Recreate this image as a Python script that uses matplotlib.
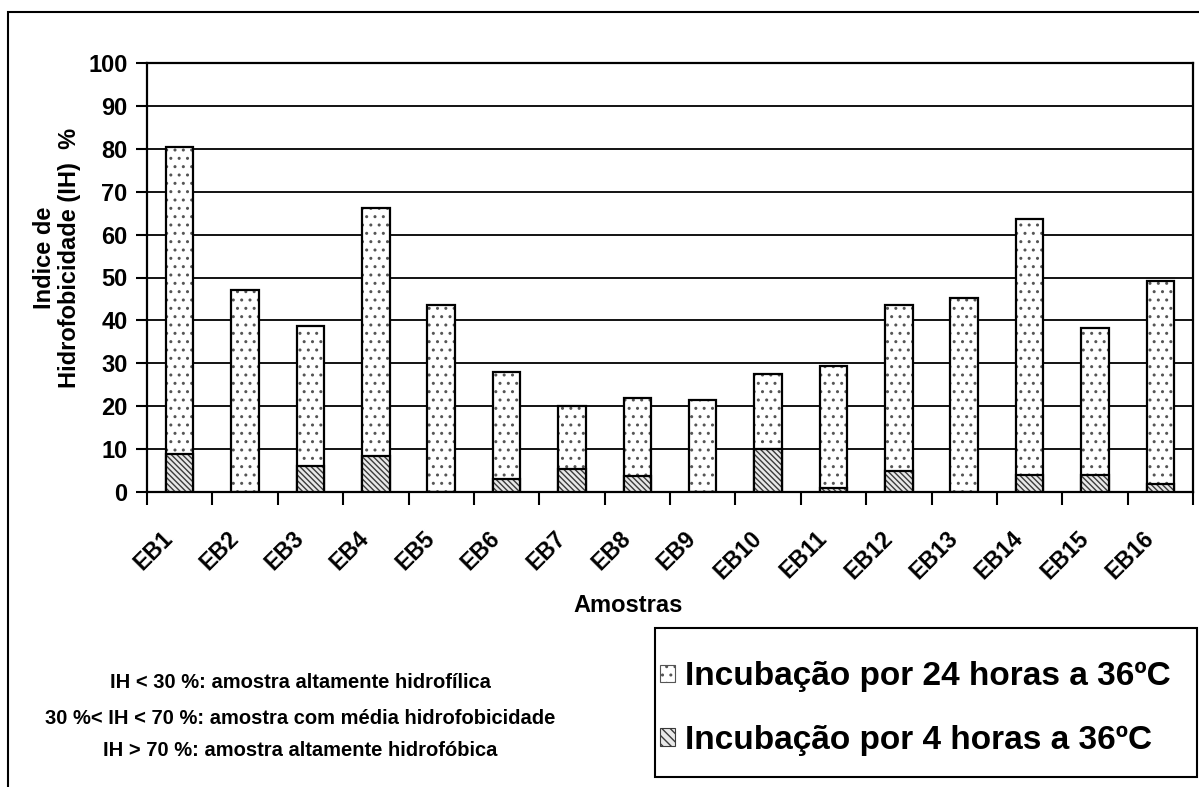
import matplotlib
matplotlib.use("Agg")
import matplotlib.pyplot as plt
import matplotlib.transforms as mtransforms
from matplotlib.patches import Rectangle, Patch
import numpy as np

plt.rcParams['font.family'] = ['Liberation Sans', 'DejaVu Sans']
plt.rcParams['font.weight'] = 'bold'
plt.rcParams['hatch.linewidth'] = 1.0

amostras = ['EB1', 'EB2', 'EB3', 'EB4', 'EB5', 'EB6', 'EB7', 'EB8',
            'EB9', 'EB10', 'EB11', 'EB12', 'EB13', 'EB14', 'EB15', 'EB16']
ih_24h = [80.5, 47.1, 38.7, 66.2, 43.7, 28.0, 20.1, 22.0,
          21.5, 27.5, 29.3, 43.7, 45.2, 63.7, 38.2, 49.3]
ih_4h = [8.9, 0, 6.1, 8.5, 0, 3.0, 5.3, 3.8,
         0, 10.0, 0.9, 4.8, 0, 3.9, 3.9, 1.9]
y_ticks = list(range(0, 101, 10))

W, H = 1199, 787
fig = plt.figure(figsize=(W / 100, H / 100), dpi=100)
ax = fig.add_axes([147 / W, 1 - 492 / H, (1193 - 147) / W, (492 - 63) / H])

x = np.arange(len(amostras))
bw = 0.42
dot_col = '#555555'
stripe_col = '#3a3a3a'

# preenchimento com textura (cor da textura = edgecolor), depois contorno preto
ax.bar(x, ih_24h, bw, color='white', edgecolor=dot_col, hatch='..', lw=0, zorder=3)
ax.bar(x, ih_24h, bw, fill=False, edgecolor='black', lw=1.6, zorder=4)
ax.bar(x, ih_4h, bw, color='#e8e8e8', edgecolor=stripe_col, hatch='\\\\\\\\\\\\', lw=0, zorder=5)
ax.bar(x, ih_4h, bw, fill=False, edgecolor='black', lw=1.6, zorder=6)

ax.set_xlim(-0.5, len(amostras) - 0.5)
ax.set_ylim(0, 100)
ax.set_yticks(y_ticks)
ax.yaxis.grid(True, color='black', lw=1.3, zorder=0)
ax.tick_params(axis='y', direction='out', length=8, width=1.5, labelsize=17, pad=6)

ax.set_xticks(x)
ax.set_xticklabels(amostras, rotation=45, ha='right', va='center',
                   rotation_mode='anchor', fontsize=16.5)
ax.set_xticks(np.arange(len(amostras) + 1) - 0.5, minor=True)
ax.tick_params(axis='x', which='major', length=0, pad=31)
ax.tick_params(axis='x', which='minor', direction='out', length=9, width=1.5)
off = mtransforms.ScaledTranslation(-0.10, 0, fig.dpi_scale_trans)
for lab in ax.get_xticklabels():
    lab.set_transform(lab.get_transform() + off)

for s in ax.spines.values():
    s.set_linewidth(1.6)

fig.text(628 / W, 1 - 605 / H, 'Amostras', ha='center', va='center', fontsize=17)
fig.text(57 / W, 1 - 258 / H, 'Indice de\nHidrofobicidade (IH)  %', ha='center', va='center',
         rotation=90, fontsize=17, multialignment='center', linespacing=1.1)

fig.text(300 / W, 1 - 683 / H, 'IH < 30 %: amostra altamente hidrofílica',
         ha='center', va='center', fontsize=14.5)
fig.text(300 / W, 1 - 718 / H, '30 %< IH < 70 %: amostra com média hidrofobicidade',
         ha='center', va='center', fontsize=14.5)
fig.text(300 / W, 1 - 750 / H, 'IH > 70 %: amostra altamente hidrofóbica',
         ha='center', va='center', fontsize=14.5)

# moldura externa
fig.patches.append(Rectangle((8 / W, -0.1), 1.2, 1.1 - 12 / H, transform=fig.transFigure,
                             fill=False, edgecolor='black', lw=1.5))
# caixa da legenda
fig.patches.append(Rectangle((655 / W, 1 - 777 / H), (1197 - 655) / W, (777 - 628) / H,
                             transform=fig.transFigure, fill=False, edgecolor='black', lw=1.5))

handles = [Patch(facecolor='white', edgecolor='#555555', hatch='..', lw=0.8),
           Patch(facecolor='#e8e8e8', edgecolor='#3a3a3a', hatch='\\\\\\\\', lw=0.8)]
fig.legend(handles, ['Incubação por 24 horas a 36ºC', 'Incubação por 4 horas a 36ºC'],
           loc='center left', bbox_to_anchor=(660 / W, 1 - 708.5 / H), frameon=False,
           fontsize=24, handlelength=0.45, handleheight=0.45, handletextpad=0.3,
           labelspacing=0.97, borderpad=0, borderaxespad=0)

fig.savefig('out.png', dpi=100)
